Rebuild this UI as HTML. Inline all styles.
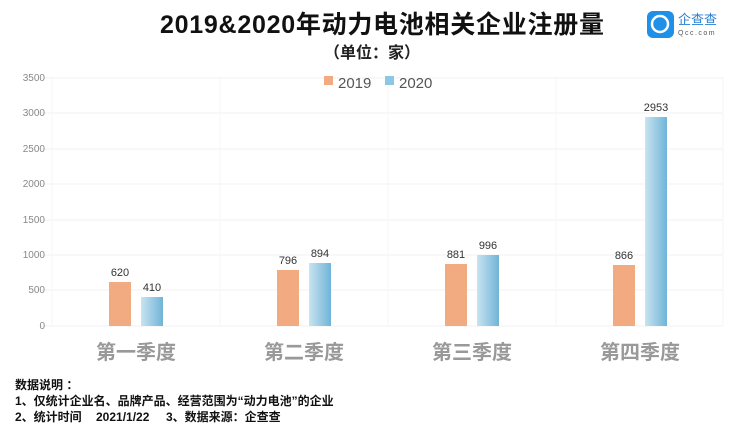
<!DOCTYPE html>
<html><head><meta charset="utf-8"><style>
body{margin:0;width:744px;height:435px;background:#fff;overflow:hidden;font-family:"Liberation Sans","Noto Sans CJK SC",sans-serif}
</style></head><body>
<svg width="744" height="435" xmlns="http://www.w3.org/2000/svg" font-family="Liberation Sans, Noto Sans CJK SC, sans-serif">
<defs>
<linearGradient id="b" x1="0" x2="1"><stop offset="0" stop-color="#c9e3f0"/><stop offset="1" stop-color="#6fb4d8"/></linearGradient>
</defs>
<text x="382" y="33" text-anchor="middle" font-size="25" font-weight="bold" fill="#111" textLength="444">2019&amp;2020年动力电池相关企业注册量</text>
<text x="372" y="58" text-anchor="middle" font-size="16" font-weight="bold" fill="#222">（单位：家）</text>
<rect x="647" y="11" width="27" height="27" rx="6" fill="#1e90e8"/>
<circle cx="660" cy="24" r="8" fill="none" stroke="#fff" stroke-width="2.5"/>
<text x="678" y="24" font-size="13" fill="#2a7fd0">企查查</text>
<text x="678" y="35" font-size="7" fill="#555" letter-spacing="1.5">Qcc.com</text>
<g stroke="#f0f0f0" stroke-width="1">
<line x1="40" y1="78" x2="723" y2="78"/><line x1="40" y1="113" x2="723" y2="113"/><line x1="40" y1="149" x2="723" y2="149"/><line x1="40" y1="184" x2="723" y2="184"/><line x1="40" y1="220" x2="723" y2="220"/><line x1="40" y1="255" x2="723" y2="255"/><line x1="40" y1="290" x2="723" y2="290"/><line x1="40" y1="326" x2="723" y2="326"/>
</g>
<g stroke="#f6f6f6" stroke-width="1">
<line x1="52" y1="78" x2="52" y2="326"/><line x1="220" y1="78" x2="220" y2="326"/><line x1="388" y1="78" x2="388" y2="326"/><line x1="556" y1="78" x2="556" y2="326"/><line x1="723" y1="78" x2="723" y2="326"/>
</g>
<g font-size="10" fill="#888" text-anchor="end">
<text x="45" y="81">3500</text><text x="45" y="116">3000</text><text x="45" y="152">2500</text><text x="45" y="187">2000</text><text x="45" y="223">1500</text><text x="45" y="258">1000</text><text x="45" y="293">500</text><text x="45" y="329">0</text>
</g>
<rect x="324" y="76" width="9" height="9" fill="#f2aa80"/><text x="338" y="88" font-size="15" fill="#555">2019</text>
<rect x="385" y="76" width="9" height="9" fill="#8ec7e3"/><text x="399" y="88" font-size="15" fill="#555">2020</text>
<g fill="#f2aa80">
<rect x="109" y="282" width="22" height="44"/><rect x="277" y="270" width="22" height="56"/><rect x="445" y="264" width="22" height="62"/><rect x="613" y="265" width="22" height="61"/>
</g>
<g fill="url(#b)">
<rect x="141" y="297" width="22" height="29"/><rect x="309" y="263" width="22" height="63"/><rect x="477" y="255" width="22" height="71"/><rect x="645" y="117" width="22" height="209"/>
</g>
<g font-size="11" fill="#333" text-anchor="middle">
<text x="120" y="276">620</text><text x="152" y="291">410</text>
<text x="288" y="264">796</text><text x="320" y="257">894</text>
<text x="456" y="258">881</text><text x="488" y="249">996</text>
<text x="624" y="259">866</text><text x="656" y="111">2953</text>
</g>
<g font-size="20" fill="#999" text-anchor="middle" font-weight="bold">
<text x="136" y="359">第一季度</text><text x="304" y="359">第二季度</text><text x="472" y="359">第三季度</text><text x="640" y="359">第四季度</text>
</g>
<g font-size="12" fill="#111" font-weight="bold">
<text x="15" y="389">数据说明 ：</text>
<text x="15" y="405">1、仅统计企业名、品牌产品、经营范围为“动力电池”的企业</text>
<text x="15" y="421">2、统计时间</text><text x="96" y="421">2021/1/22</text><text x="166" y="421">3、数据来源：企查查</text>
</g>
</svg>
</body></html>
